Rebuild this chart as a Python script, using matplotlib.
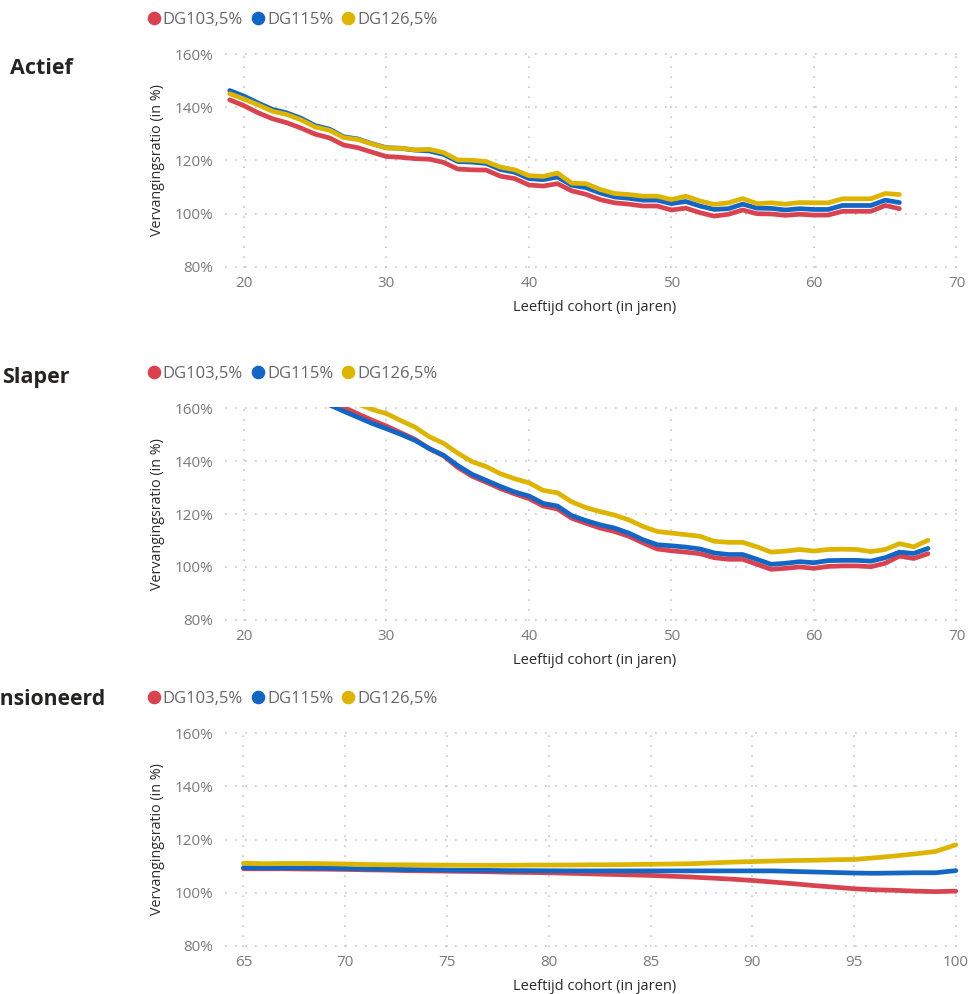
import matplotlib
matplotlib.use("Agg")
import matplotlib.pyplot as plt
from matplotlib.lines import Line2D

plt.rcParams['font.family'] = ['Open Sans', 'DejaVu Sans']

# reeksen en kleuren
series = ["DG103,5%", "DG115%", "DG126,5%"]
colors = ["#D9434F", "#1366C3", "#DDB400"]

# Actief
actief_age = list(range(19, 67))
actief_red = [142.8, 140.6, 137.9, 135.7, 134.2, 132.2, 129.9, 128.5, 125.8, 124.8,
              123.1, 121.5, 121.2, 120.7, 120.5, 119.3, 116.8, 116.5, 116.4, 114.1,
              113.2, 110.8, 110.4, 111.3, 108.6, 107.3, 105.3, 104.1, 103.6, 102.9,
              102.9, 101.4, 102.1, 100.4, 99.1, 99.8, 101.4, 100.0, 99.9, 99.4,
              99.8, 99.5, 99.5, 100.9, 100.9, 100.9, 103.1, 101.9]
actief_blue = [146.3, 144.2, 141.6, 139.2, 137.9, 135.9, 133.1, 131.8, 128.9, 128.1,
               126.3, 124.8, 124.6, 123.9, 123.6, 122.3, 119.6, 119.4, 118.9, 116.6,
               115.6, 113.2, 112.8, 113.8, 110.7, 109.8, 107.8, 106.3, 105.8, 105.1,
               105.1, 103.8, 104.6, 102.9, 101.6, 101.9, 103.6, 102.1, 102.0, 101.4,
               101.9, 101.6, 101.6, 103.1, 103.1, 103.1, 105.1, 104.2]
actief_yellow = [145.1, 143.1, 140.9, 138.5, 137.3, 135.3, 132.6, 131.4, 128.6, 127.9,
                 126.2, 124.7, 124.6, 124.0, 124.2, 123.0, 120.2, 120.1, 119.6, 117.5,
                 116.5, 114.3, 114.0, 115.3, 111.5, 111.3, 109.1, 107.6, 107.2, 106.6,
                 106.6, 105.3, 106.6, 104.8, 103.5, 104.1, 105.7, 103.8, 104.1, 103.6,
                 104.2, 104.1, 104.1, 105.6, 105.6, 105.6, 107.6, 107.2]

# Slaper
slaper_age = list(range(25, 69))
slaper_red = [165.5, 163.0, 160.3, 157.8, 155.4, 153.2, 150.7, 148.2, 144.7, 142.0,
              137.6, 134.3, 132.0, 129.6, 127.6, 125.8, 123.0, 121.9, 118.4, 116.5,
              114.7, 113.4, 111.6, 109.1, 106.8, 106.1, 105.6, 105.0, 103.5, 102.9,
              102.9, 101.0, 99.1, 99.5, 100.0, 99.5, 100.2, 100.4, 100.4, 100.1,
              101.4, 104.1, 103.2, 105.0]
slaper_blue = [163.5, 161.2, 158.8, 156.5, 154.2, 152.2, 150.1, 147.8, 144.7, 142.2,
               138.3, 135.0, 132.7, 130.4, 128.3, 126.8, 124.0, 123.0, 119.4, 117.5,
               115.9, 114.7, 112.8, 110.3, 108.4, 108.0, 107.5, 106.8, 105.3, 104.7,
               104.7, 102.9, 101.0, 101.4, 102.0, 101.6, 102.4, 102.5, 102.5, 102.2,
               103.5, 105.6, 105.1, 107.0]
slaper_yellow = [168.5, 166.0, 163.7, 161.5, 159.5, 157.9, 155.3, 152.8, 149.2, 146.7,
                 143.0, 139.8, 137.9, 135.2, 133.3, 131.8, 128.9, 128.0, 124.6, 122.4,
                 120.9, 119.6, 117.8, 115.3, 113.4, 112.8, 112.2, 111.6, 109.7, 109.3,
                 109.3, 107.6, 105.6, 106.0, 106.6, 106.0, 106.6, 106.7, 106.6, 105.8,
                 106.6, 108.8, 107.6, 110.1]

# Gepensioneerd
pens_age = list(range(65, 101))
pens_red = [109.0, 109.0, 109.0, 108.9, 108.85, 108.75, 108.6, 108.5, 108.3, 108.2,
            108.1, 108.0, 107.9, 107.7, 107.6, 107.5, 107.3, 107.1, 106.9, 106.7,
            106.5, 106.2, 105.9, 105.5, 105.1, 104.6, 104.0, 103.4, 102.7, 102.1,
            101.5, 101.1, 100.9, 100.6, 100.4, 100.6]
pens_blue = [109.4, 109.3, 109.3, 109.3, 109.2, 109.1, 108.9, 108.8, 108.7, 108.6,
             108.5, 108.4, 108.4, 108.3, 108.3, 108.25, 108.2, 108.2, 108.2, 108.2,
             108.2, 108.2, 108.2, 108.2, 108.2, 108.2, 108.2, 108.0, 107.8, 107.6,
             107.4, 107.3, 107.4, 107.5, 107.5, 108.3]
pens_yellow = [111.1, 110.9, 111.0, 111.0, 110.9, 110.8, 110.6, 110.5, 110.5, 110.4,
               110.4, 110.3, 110.3, 110.3, 110.4, 110.4, 110.4, 110.5, 110.5, 110.6,
               110.7, 110.8, 110.9, 111.2, 111.5, 111.7, 111.9, 112.1, 112.2, 112.4,
               112.5, 113.1, 113.8, 114.6, 115.5, 118.0]

yticks = [80, 100, 120, 140, 160]
ytick_labels = ["80%", "100%", "120%", "140%", "160%"]

W, H = 968, 994
fig = plt.figure(figsize=(W / 100, H / 100), dpi=100)
renderer = fig.canvas.get_renderer()

# (titel, titel x, grootte, titel y, legend y, ax top, ax bottom, xlim, xticks, data)
panels = [
    ("Actief", 41, 15.5, 68, 20, 53, 268, (18.65, 70.6), list(range(20, 71, 10)),
     actief_age, [actief_red, actief_blue, actief_yellow]),
    ("Slaper", 36, 15.5, 378, 374, 407, 621, (18.65, 70.6), list(range(20, 71, 10)),
     slaper_age, [slaper_red, slaper_blue, slaper_yellow]),
    ("Gepensioneerd", None, 15.2, 700, 699, 732, 947, (64.08, 100.45), list(range(65, 101, 5)),
     pens_age, [pens_red, pens_blue, pens_yellow]),
]

ax_left, ax_right = 224.7, 965

for title, tx, tsize, ty, ly, top, bottom, xlim, xticks, ages, vals in panels:
    ax = fig.add_axes([ax_left / W, 1 - bottom / H, (ax_right - ax_left) / W, (bottom - top) / H])
    for v, c in zip(vals, colors):
        ax.plot(ages, v, color=c, lw=3.4, solid_joinstyle='round', solid_capstyle='round')
    ax.set_xlim(*xlim)
    ax.set_ylim(79.6, 160.4)
    ax.set_xticks(xticks)
    ax.set_yticks(yticks)
    ax.set_yticklabels(ytick_labels)
    ax.grid(True, color="#c6c6c6", linestyle=(0, (1, 5)), linewidth=1.2)
    ax.set_axisbelow(True)
    for s in ax.spines.values():
        s.set_visible(False)
    ax.tick_params(axis='both', length=0, labelsize=11, labelcolor="#7a7a7a")
    ax.tick_params(axis='x', pad=6)
    ax.tick_params(axis='y', pad=8)
    ax.set_ylabel("Vervangingsratio (in %)", fontsize=10.3, color="#2b2b2b")
    ax.yaxis.set_label_coords(-0.081, 0.5)
    ax.set_xlabel("Leeftijd cohort (in jaren)", fontsize=10.5, color="#2b2b2b")
    ax.xaxis.set_label_coords(0.5, -0.15)

    if tx is None:
        # titel valt links buiten beeld: "Gepe" net voorbij de rand
        probe = fig.text(0, 0, "Gepe", fontsize=tsize, fontweight='bold')
        w_prefix = probe.get_window_extent(renderer).width
        probe.remove()
        fig.text(-w_prefix / W, 1 - ty / H, title, fontsize=tsize, fontweight='bold',
                 color="#252423", ha='left', va='center')
    else:
        fig.text(tx / W, 1 - ty / H, title, fontsize=tsize, fontweight='bold',
                 color="#252423", ha='center', va='center')

    handles = [Line2D([], [], marker='o', linestyle='none', markersize=8.8,
                      markerfacecolor=c, markeredgecolor=c) for c in colors]
    ax.legend(handles, series, loc='center left', bbox_to_anchor=(147 / W, 1 - ly / H),
              bbox_transform=fig.transFigure, ncol=3, frameon=False, fontsize=12,
              labelcolor="#666666", handlelength=0.8, handletextpad=0.14,
              columnspacing=0.5, borderpad=0, borderaxespad=0)

fig.savefig("out.png", dpi=100)
